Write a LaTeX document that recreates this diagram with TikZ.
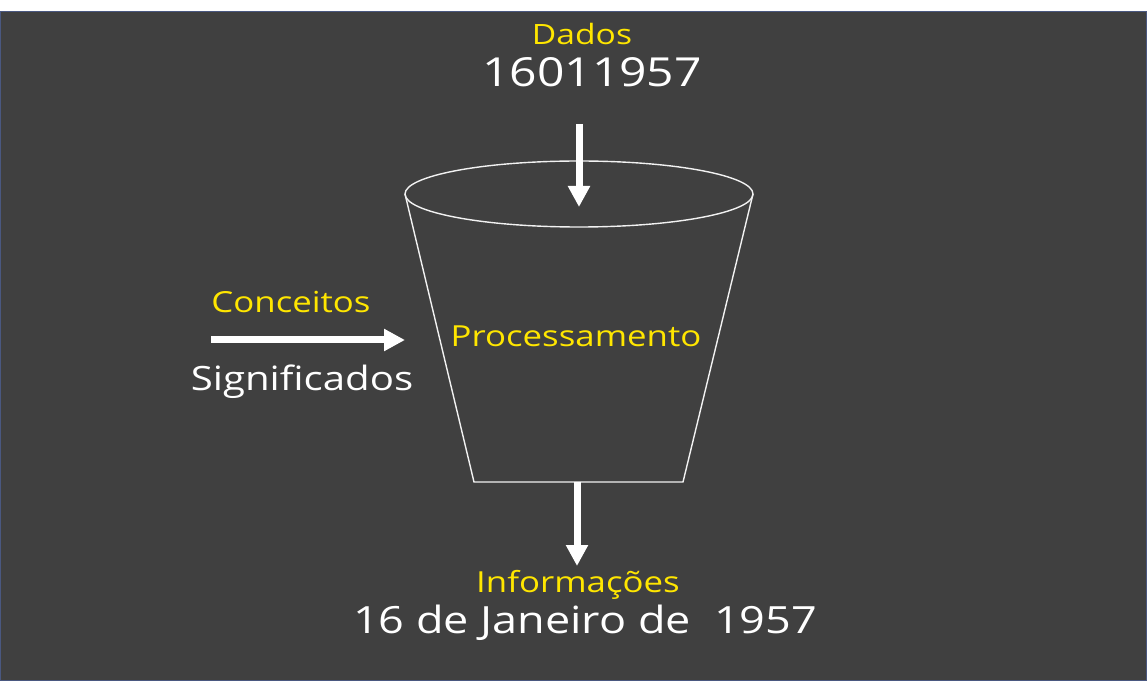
\documentclass[tikz,border=0pt]{standalone}
\usepackage{fontspec}
\setmainfont[FakeStretch=1.2]{Open Sans}
\usetikzlibrary{arrows.meta}

\definecolor{board}{RGB}{64,64,64}
\definecolor{boardedge}{RGB}{74,88,128}
\definecolor{chalkyellow}{RGB}{255,230,0}

\begin{document}
\begin{tikzpicture}[x=1pt, y=-1pt,
            title/.style={text=chalkyellow, anchor=base, inner sep=0pt},
            value/.style={text=white, anchor=base, inner sep=0pt},
            flow/.style={white, line width=7pt, -{Triangle[width=21pt, length=21pt]}},
            funnel/.style={draw=white!90!gray, line width=1.4pt}]

            % board and page size
            \useasboundingbox (0,0) rectangle (1148,684);
            \fill[board, draw=boardedge, line width=1pt] (0.5,11.5) rectangle (1146.5,680.5);

            % input data
            \node[title, font=\fontsize{28}{30}\selectfont] (dados) at (582,45) {Dados};
            \node[value, font=\fontsize{40}{42}\selectfont] (num) at (592,87) {16011957};

            % funnel
            \coordinate (tl) at (405,194);
            \coordinate (tr) at (753,194);
            \coordinate (bl) at (474,482);
            \coordinate (br) at (683,482);
            \draw[funnel] (579,194) ellipse [x radius=174, y radius=33];
            \draw[funnel] (tl) -- (bl) -- (br) -- (tr);
            \node[title, font=\fontsize{29}{31}\selectfont] (proc) at (576,347) {Processamento};

            % concepts from the left
            \node[title, font=\fontsize{29}{31}\selectfont] (conc) at (291,313) {Conceitos};
            \node[value, font=\fontsize{33.5}{35}\selectfont] (sig) at (302,390) {Significados};

            % output
            \node[title, font=\fontsize{29}{31}\selectfont] (info) at (578,592) {Informações};
            \node[value, font=\fontsize{37.5}{40}\selectfont] (data) at (585,633) {16 de Janeiro de\hspace{0.3em} 1957};

            % arrows
            \coordinate (intop) at (579,124);
            \coordinate (inend) at (579,207);
            \coordinate (lstart) at (211,340);
            \coordinate (lend) at (405,340);
            \coordinate (outtop) at (577,482);
            \coordinate (outend) at (577,566);
            \draw[flow] (intop) -- (inend);
            \draw[flow] (lstart) -- (lend);
            \draw[flow] (outtop) -- (outend);
        \end{tikzpicture}
\end{document}
